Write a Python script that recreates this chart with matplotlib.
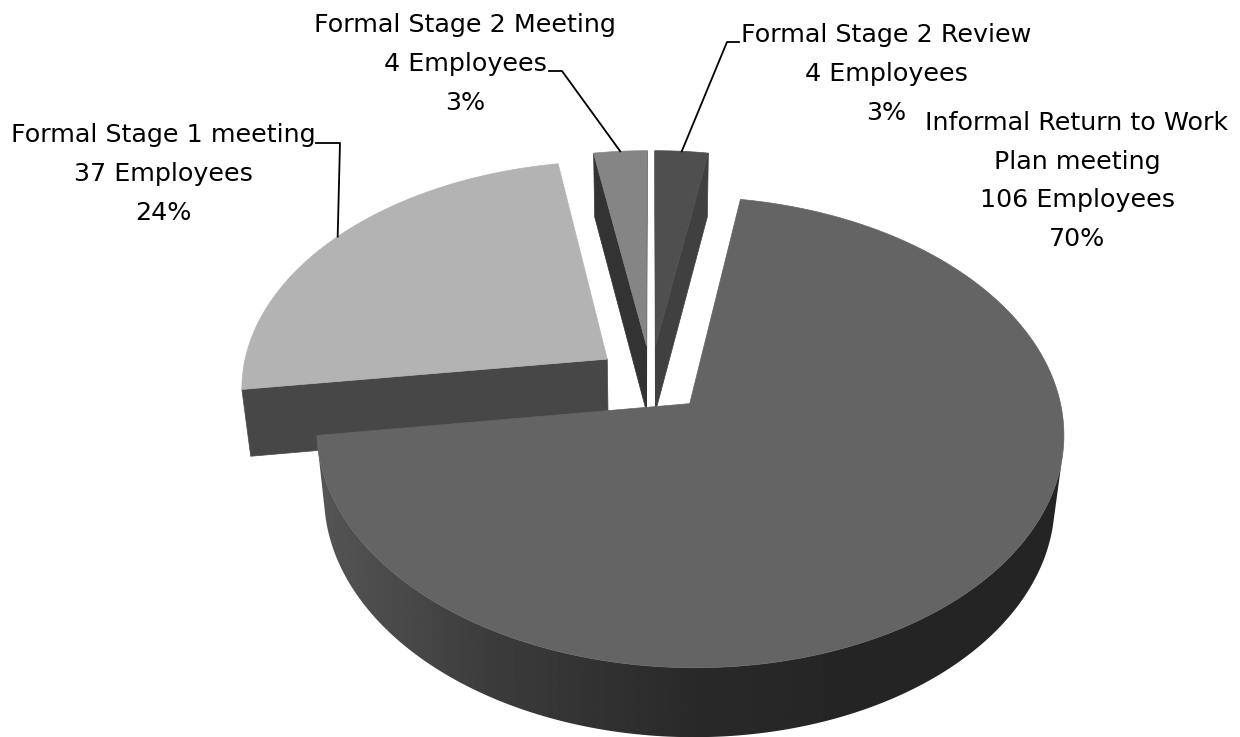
import numpy as np
import matplotlib.pyplot as plt
from matplotlib.patches import Polygon

# slices listed clockwise starting at 12 o'clock
names = ['Formal Stage 2 Review', 'Informal Return to Work\nPlan meeting',
         'Formal Stage 1 meeting', 'Formal Stage 2 Meeting']
employees = [4, 106, 37, 4]
percents = [3, 70, 24, 3]

top_colors = ['#4f4f4f', '#646464', '#b3b3b3', '#858585']
wall_colors = ['#404040', None, '#474747', '#333333']

# label block centres and leader elbows (pixel coords)
label_pos = [(886, 74), (1077, 181), (163, 174), (465, 64)]
leaders = [[(739, 42), (727, 42)], None, [(316, 143), (340, 143)], [(549, 71), (562, 71)]]

# projection of the tilted pie
cx, cy = 651, 379
A, B = 366, 226
persp = 0.12
zshrink = 0.022
explode = 0.15


def project(X, Y, z):
    """z = 0 on the top face, 1 on the bottom face."""
    X = np.asarray(X, float)
    Y = np.asarray(Y, float)
    den = 1 + persp * Y
    sx = cx + A * X / (den + zshrink * z)
    sy = cy - B * Y / den + z * (66.7 - 2.5 * Y)
    return np.column_stack([np.atleast_1d(sx), np.atleast_1d(sy)])


def area(pts):
    x, y = pts[:, 0], -pts[:, 1]
    return 0.5 * np.sum(x * np.roll(y, -1) - np.roll(x, -1) * y)


def wall_gray(x):
    return np.interp(x, [318, 500, 690, 850, 1062],
                     [0x55, 0x3b, 0x2a, 0x25, 0x24]) / 255


fig = plt.figure(figsize=(12.4, 7.37), dpi=100)
ax = fig.add_axes([0, 0, 1, 1])

vals = np.array(employees, float)
bounds = np.concatenate([[0], np.cumsum(vals / vals.sum()) * 2 * np.pi])
mids = (bounds[:-1] + bounds[1:]) / 2
offs = [(explode * np.sin(m), explode * np.cos(m)) for m in mids]

# paint far slices first
order = sorted(range(len(vals)), key=lambda i: -offs[i][1])
for i in order:
    a0, a1 = bounds[i], bounds[i + 1]
    ox, oy = offs[i]
    th = np.linspace(a0, a1, 400)
    ex, ey = ox + np.sin(th), oy + np.cos(th)
    top = project(ex, ey, 0)
    bot = project(ex, ey, 1)
    apex_t = project(ox, oy, 0)[0]
    apex_b = project(ox, oy, 1)[0]

    # outer curved wall, only the parts facing the viewer
    vis = np.array([area(np.array([top[k], top[k + 1], bot[k + 1], bot[k]])) > 0
                    for k in range(len(th) - 1)])
    k = 0
    while k < len(vis):
        if not vis[k]:
            k += 1
            continue
        j = k
        while j < len(vis) and vis[j]:
            j += 1
        poly = np.vstack([top[k:j + 1], bot[k:j + 1][::-1]])
        if wall_colors[i] is None:
            patch = Polygon(poly, closed=True, facecolor='none', edgecolor='none')
            ax.add_patch(patch)
            x0, x1 = poly[:, 0].min() - 2, poly[:, 0].max() + 2
            xs = np.linspace(x0, x1, 1200)
            grad = np.tile(wall_gray(xs), (2, 1))
            im = ax.imshow(grad, extent=(x0, x1, poly[:, 1].max() + 2, poly[:, 1].min() - 2),
                           cmap='gray', vmin=0, vmax=1, aspect='auto',
                           interpolation='bilinear')
            im.set_clip_path(patch)
        else:
            ax.add_patch(Polygon(poly, closed=True, facecolor=wall_colors[i],
                                 edgecolor=wall_colors[i], lw=0.5))
        k = j

    # radial walls
    start = np.array([apex_t, top[0], bot[0], apex_b])
    end = np.array([apex_t, apex_b, bot[-1], top[-1]])
    for quad in (start, end):
        if area(quad) > 0:
            c = wall_colors[i] if wall_colors[i] else '#2a2a2a'
            ax.add_patch(Polygon(quad, closed=True, facecolor=c, edgecolor=c, lw=0.5))

    # top face
    face = np.vstack([apex_t, top])
    ax.add_patch(Polygon(face, closed=True, facecolor=top_colors[i],
                         edgecolor=top_colors[i], lw=0.5))

# labels and leader lines
for i in range(len(vals)):
    txt = f'{names[i]}\n{employees[i]} Employees\n{percents[i]}%'
    ax.text(*label_pos[i], txt, ha='center', va='center', fontsize=18.3,
            linespacing=1.78, color='black', family='DejaVu Sans')
    if leaders[i] is not None:
        ox, oy = offs[i]
        anchor = project(ox + np.sin(mids[i]), oy + np.cos(mids[i]), 0)[0]
        pts = np.array(leaders[i] + [tuple(anchor)])
        ax.plot(pts[:, 0], pts[:, 1], color='black', lw=1.3)

ax.set_xlim(0, 1240)
ax.set_ylim(737, 0)
ax.axis('off')
fig.savefig('out.png', dpi=100, facecolor='white')
